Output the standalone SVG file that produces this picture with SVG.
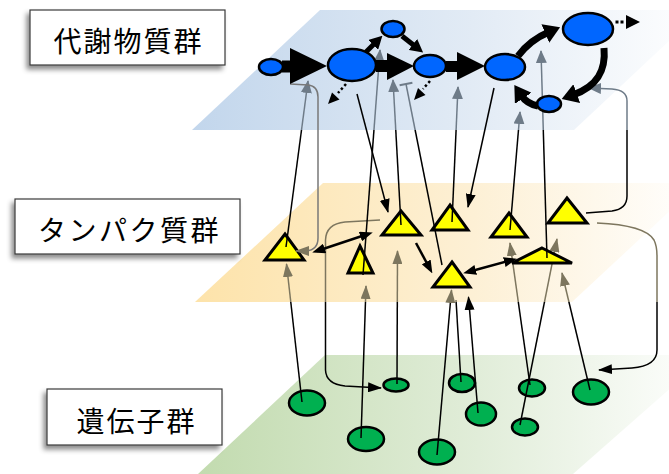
<svg xmlns="http://www.w3.org/2000/svg" width="669" height="474" viewBox="0 0 669 474">
<defs>
<style>
.ln{fill:none;stroke-width:1.5}
.pb{stroke:url(#sPB)}
.gy{stroke:url(#sGY)}
.bk{stroke:#000}
.met{fill:#0066ff;stroke:#000;stroke-width:2.5}
.pro{fill:#ffff00;stroke:#000;stroke-width:3;stroke-linejoin:miter}
.gen{fill:#00b050;stroke:#000;stroke-width:2.5}
.lbl rect{fill:#fff;stroke:#3a3a3a;stroke-width:1.2}
.lbl text{font-family:"Noto Sans CJK JP","Noto Sans CJK SC",sans-serif;font-size:28px;text-anchor:middle;dominant-baseline:central;fill:#000}
.thick{fill:none;stroke:#000}
</style>
<linearGradient id="gBlue" x1="0" y1="0" x2="1" y2="0">
<stop offset="0" stop-color="#c2d6ec"/><stop offset="0.55" stop-color="#e2ebf5"/><stop offset="1" stop-color="#ffffff"/>
</linearGradient>
<linearGradient id="gYel" x1="0" y1="0" x2="1" y2="0">
<stop offset="0" stop-color="#fde3aa"/><stop offset="0.55" stop-color="#fdf0d5"/><stop offset="1" stop-color="#ffffff"/>
</linearGradient>
<linearGradient id="gGrn" x1="0" y1="0" x2="1" y2="0">
<stop offset="0" stop-color="#c2dbaf"/><stop offset="0.55" stop-color="#e1edd9"/><stop offset="1" stop-color="#ffffff"/>
</linearGradient>
<linearGradient id="sPB" gradientUnits="userSpaceOnUse" x1="0" y1="0" x2="0" y2="474">
<stop offset="0" stop-color="#6e7b88"/><stop offset="0.2743" stop-color="#6e7b88"/><stop offset="0.2743" stop-color="#000"/><stop offset="1" stop-color="#000"/>
</linearGradient>
<linearGradient id="sGY" gradientUnits="userSpaceOnUse" x1="0" y1="0" x2="0" y2="474">
<stop offset="0" stop-color="#000"/><stop offset="0.386" stop-color="#000"/><stop offset="0.386" stop-color="#7d765e"/><stop offset="0.637" stop-color="#7d765e"/><stop offset="0.637" stop-color="#000"/><stop offset="1" stop-color="#000"/>
</linearGradient>
<marker id="ak" markerUnits="userSpaceOnUse" viewBox="0 0 14 10" markerWidth="14" markerHeight="10" refX="13" refY="5" orient="auto"><path d="M0,0L14,5L0,10z" fill="#000"/></marker>
<marker id="ag" markerUnits="userSpaceOnUse" viewBox="0 0 13 11" markerWidth="13" markerHeight="11" refX="12" refY="5.5" orient="auto"><path d="M0,0L13,5.5L0,11z" fill="#6e7b88"/></marker>
<marker id="ay" markerUnits="userSpaceOnUse" viewBox="0 0 14 10" markerWidth="14" markerHeight="10" refX="13" refY="5" orient="auto"><path d="M0,0L14,5L0,10z" fill="#7d765e"/></marker>
<marker id="ak2" markerUnits="userSpaceOnUse" viewBox="0 0 13 10" markerWidth="13" markerHeight="10" refX="8" refY="5" orient="auto-start-reverse"><path d="M0,0L13,5L0,10z" fill="#000"/></marker>
<marker id="hk" markerUnits="userSpaceOnUse" viewBox="0 0 13 14" markerWidth="13" markerHeight="14" refX="4" refY="7" orient="auto"><path d="M0,0L13,7L0,14z" fill="#000"/></marker>
<marker id="hb" markerUnits="userSpaceOnUse" viewBox="0 0 16 20" markerWidth="16" markerHeight="20" refX="4" refY="10" orient="auto"><path d="M0,0L16,10L0,20z" fill="#000"/></marker>
<filter id="sh" x="-20%" y="-40%" width="140%" height="180%"><feDropShadow dx="-3" dy="4" stdDeviation="2.5" flood-color="#000" flood-opacity="0.45"/></filter>
</defs>

<g id="planes">
<polygon points="325,355 708,355 573,474 198,474" fill="url(#gGrn)"/>
<polygon points="323,183 700,183 572,302 195,302" fill="url(#gYel)"/>
<polygon points="320,10 702,10 574,130 192,130" fill="url(#gBlue)"/>
</g>

<g id="labels" class="lbl">
<g id="label-metabolites"><rect x="30" y="10" width="195" height="55" filter="url(#sh)"/><text x="128.5" y="40" letter-spacing="2">代謝物質群</text></g>
<g id="label-proteins"><rect x="15" y="199" width="225" height="55" filter="url(#sh)"/><text x="129.5" y="228.5" letter-spacing="2.5">タンパク質群</text></g>
<g id="label-genes"><rect x="47" y="389" width="175" height="56" filter="url(#sh)"/><text x="136.5" y="420" letter-spacing="2">遺伝子群</text></g>
</g>

<g id="genes">
<g id="G1"><ellipse class="gen" cx="307" cy="403" rx="18" ry="12.5"/></g>
<g id="G2"><ellipse class="gen" cx="396" cy="385" rx="12.5" ry="6.5"/></g>
<g id="G3"><ellipse class="gen" cx="366" cy="439" rx="18" ry="12"/></g>
<g id="G4"><ellipse class="gen" cx="437" cy="452" rx="18" ry="12.5"/></g>
<g id="G5"><ellipse class="gen" cx="462" cy="383" rx="13" ry="9"/></g>
<g id="G6"><ellipse class="gen" cx="481" cy="414" rx="15" ry="11.5"/></g>
<g id="G7"><ellipse class="gen" cx="532" cy="388" rx="13" ry="8.5"/></g>
<g id="G8"><ellipse class="gen" cx="525" cy="427" rx="13" ry="8.5"/></g>
<g id="G9"><ellipse class="gen" cx="591" cy="392" rx="18" ry="12.5"/></g>
</g>

<g id="connectors-gene-level">
<path class="ln gy" d="M302,402 L286.5,264" marker-end="url(#ay)"/>
<path class="ln gy" d="M361,438 L366,286" marker-end="url(#ay)"/>
<path class="ln gy" d="M397,384 L397.5,251" marker-end="url(#ay)"/>
<path class="ln gy" d="M437,455 L451.5,290" marker-end="url(#ay)"/>
<path class="ln gy" d="M461,382 L456,300"/>
<path class="ln gy" d="M478,413 L468.5,297" marker-end="url(#ak)"/>
<path class="ln gy" d="M530,385 L510,243" marker-end="url(#ay)"/>
<path class="ln gy" d="M520,425 L557,239" marker-end="url(#ay)"/>
<path class="ln gy" d="M590,390 L562,273" marker-end="url(#ay)"/>
<path class="ln gy" d="M380,220 L345,222 Q326,224 325.5,240 L325.5,370 Q326,384 345,386 L381,388" marker-end="url(#ak)"/>
<path class="ln gy" d="M597,223 Q645,225 654,240 Q657,246 657,256 L657,350 Q657,366 632,368 L599,370" marker-end="url(#ak)"/>
</g>

<g id="proteins">
<g id="P1"><polygon class="pro" points="285,234 304,260 265,260"/></g>
<g id="P2"><polygon class="pro" points="360,246 373,273 348,273"/></g>
<g id="P3"><polygon class="pro" points="401,211 421,235 382,235"/></g>
<g id="P4"><polygon class="pro" points="450,205 468,230 432,230"/></g>
<g id="P5"><polygon class="pro" points="509,213 527,237 491,237"/></g>
<g id="P6"><polygon class="pro" points="567,198 587,223 548,223"/></g>
<g id="P7"><polygon class="pro" points="542,248 572,263 512,263"/></g>
<g id="P8"><polygon class="pro" points="452,262 470,287 433,287"/></g>
</g>

<g id="connectors-protein-level">
<path class="ln pb" d="M286,247 L308,81" marker-end="url(#ag)"/>
<path class="ln pb" d="M363,275 L380,50" marker-end="url(#ag)"/>
<path class="ln pb" d="M401,225 L393,80" marker-end="url(#ag)"/>
<path class="ln pb" d="M452,222 L458,87" marker-end="url(#ag)"/>
<path class="ln pb" d="M510,230 L520,112" marker-end="url(#ag)"/>
<path class="ln pb" d="M547,258 L541,51" marker-end="url(#ag)"/>
<path class="ln pb" d="M586,213 L612,211 Q627,209 627,196 L627,101 Q627,90 612,89 L589,88" marker-end="url(#ag)"/>
<path class="ln pb" d="M442,265 L406,84"/>
<path class="pb" fill="none" stroke-width="2" d="M399.6,85.3 L412.4,82.7"/>
<path class="ln" stroke="#787878" d="M290,84 L308,85 Q318,86 318,97 L318,238 Q318,250 306,251 L296,251" marker-end="url(#ay)"/>
<path class="bk" fill="none" stroke-width="2.5" d="M317,251 L368,234" marker-start="url(#ak2)" marker-end="url(#ak2)"/>
<path class="bk" fill="none" stroke-width="2.5" d="M468,272 L512,260" marker-start="url(#ak2)" marker-end="url(#ak2)"/>
<path class="bk" fill="none" stroke-width="2.5" d="M416,243 L430,269" marker-end="url(#ak2)"/>
</g>

<g id="metabolites">
<g id="M1"><ellipse class="met" cx="271" cy="67" rx="12" ry="8"/></g>
<g id="M2"><ellipse class="met" cx="352" cy="65" rx="24" ry="16"/></g>
<g id="M3"><ellipse class="met" cx="393" cy="29" rx="11.5" ry="8"/></g>
<g id="M4"><ellipse class="met" cx="430" cy="66" rx="16" ry="11"/></g>
<g id="M5"><ellipse class="met" cx="505" cy="67" rx="20" ry="13"/></g>
<g id="M6"><ellipse class="met" cx="588" cy="29" rx="25" ry="16"/></g>
<g id="M7"><ellipse class="met" cx="549" cy="104" rx="12" ry="8"/></g>
</g>

<g id="connectors-metabolite-level">
<rect x="282" y="60.5" width="10" height="12"/>
<polygon points="290,48 327,66 290,84"/>
<rect x="376" y="60" width="12" height="12"/>
<polygon points="387,53 414,66 387,80"/>
<rect x="446" y="61" width="12" height="11"/>
<polygon points="457,52 485,66 457,80"/>
<path class="thick" stroke-width="5" d="M366,52 L376,42" marker-end="url(#hk)"/>
<path class="thick" stroke-width="5" d="M402,36 L416,47" marker-end="url(#hk)"/>
<path class="thick" stroke-width="7" d="M518,56 Q530,40 549,32" marker-end="url(#hb)"/>
<path class="thick" stroke-width="7" d="M604,48 C606,70 598,86 573,95" marker-end="url(#hb)"/>
<path class="thick" stroke-width="7" d="M538,106 Q527,104 521,95" marker-end="url(#hb)"/>
<path class="thick" stroke-width="2.5" stroke-dasharray="2.5,2.5" d="M346,84 L338,93"/>
<polygon points="328,104 339.5,99.5 332,92.5"/>
<path class="thick" stroke-width="2.5" stroke-dasharray="2.5,2.5" d="M430,81 L423,89"/>
<polygon points="414,100 425.5,95 418,88"/>
<rect x="615.5" y="20.5" width="3" height="3"/>
<rect x="620.5" y="20.5" width="3" height="3"/>
<polygon points="626,15 640,22 626,29"/>
<path class="ln bk" d="M357,94 L388,212" marker-end="url(#ak)"/>
<path class="ln bk" d="M494,88 L468,207" marker-end="url(#ak)"/>
</g>
</svg>
